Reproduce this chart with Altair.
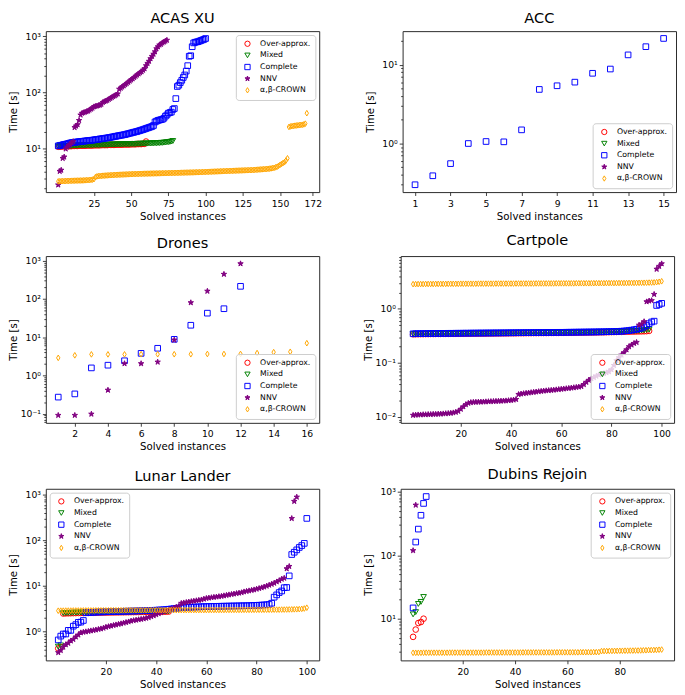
import math
import altair as alt
import pandas as pd

FONT = "DejaVu Sans"
SERIES = ["Over-approx.", "Mixed", "Complete", "NNV", "α,β-CROWN"]
STROKES = ["#ff0000", "#008000", "#0000ff", "#800080", "#ffa500"]
FILLS = ["transparent", "transparent", "transparent", "#800080", "transparent"]
STAR = "M0,-1L0.225,-0.309L0.951,-0.309L0.363,0.118L0.588,0.809L0,0.382L-0.588,0.809L-0.363,0.118L-0.951,-0.309L-0.225,-0.309Z"
THIN_DIAMOND = "M0,-1L0.6,0L0,1L-0.6,0Z"
SHAPES = ["circle", "triangle-down", "square", STAR, THIN_DIAMOND]

# ---------------- ACAS XU ----------------
ACAS_OVER = [10.9,11.0,11.0,11.1,11.1,11.1,11.2,11.2,11.2,11.2,
             11.3,11.3,11.3,11.3,11.4,11.4,11.4,11.4,11.4,11.5,
             11.5,11.5,11.5,11.5,11.6,11.6,11.6,11.6,11.6,11.7,
             11.7,11.7,11.7,11.7,11.8,11.8,11.8,11.8,11.8,11.9,
             11.9,11.9,11.9,11.9,12.0,12.0,12.0,12.0,12.0,12.1,
             12.1,12.1,12.1,12.2,12.2,12.2,12.2,12.3,12.3,13.5]
ACAS_MIXED = [11.0,11.1,11.1,11.2,11.2,11.2,11.3,11.3,11.3,11.3,
              11.4,11.4,11.4,11.4,11.5,11.5,11.5,11.5,11.5,11.6,
              11.6,11.6,11.6,11.6,11.7,11.7,11.7,11.7,11.7,11.8,
              11.8,11.8,11.8,11.8,11.9,11.9,11.9,11.9,11.9,12.0,
              12.0,12.0,12.0,12.0,12.1,12.1,12.1,12.1,12.1,12.2,
              12.2,12.2,12.2,12.3,12.3,12.3,12.3,12.4,12.4,12.4,
              12.4,12.5,12.5,12.5,12.6,12.6,12.6,12.7,12.7,12.8,
              12.8,12.9,13.0,13.1,13.2,13.3,13.5,13.8]
ACAS_COMPLETE = [11.3,11.5,11.6,11.8,12.0,12.1,12.3,12.5,12.7,12.9,
                 13.0,13.1,13.2,13.3,13.4,13.5,13.6,13.7,13.8,13.9,
                 14.0,14.1,14.2,14.3,14.4,14.6,14.7,14.8,15.0,15.1,
                 15.2,15.4,15.5,15.7,15.8,16.0,16.2,16.4,16.6,16.8,
                 17.0,17.2,17.4,17.6,17.8,18.0,18.3,18.6,18.9,19.2,
                 19.5,19.8,20.1,20.4,20.8,21.2,21.6,22.0,22.5,23.0,
                 23.5,24.0,24.5,25.0,26.0,30.0,31.0,32.0,32.5,33.0,
                 33.5,35.0,38.0,40.0,43.0,44.0,45.0,50.0,52.0,78.0,
                 128,135,150,165,185,205,240,300,440,450,
                 650,760,780,790,800,820,840,860,880,910]
ACAS_NNV = [2.3,4.0,4.2,6.8,7.2,10.0,10.8,11.5,12.0,12.8,
            13.5,24.0,25.5,27.0,32.0,40.0,43.0,44.0,45.0,46.0,
            47.0,49.0,51.0,53.0,56.0,57.0,58.0,59.0,60.0,62.0,
            67.0,69.0,71.0,73.0,76.0,79.0,82.0,85.0,88.0,91.0,
            95.0,115,120,126,132,138,145,152,160,168,
            176,185,195,205,215,225,235,250,265,300,
            330,360,400,440,480,530,600,650,700,720,
            760,790,820,850]
ACAS_CROWN = [2.65,2.66,2.67,2.68,2.68,2.69,2.70,2.70,2.71,2.72,
              2.72,2.73,2.73,2.74,2.74,2.75,2.75,2.76,2.77,2.78,
              2.79,2.80,2.82,2.85,2.90,
              3.15,3.25,3.28,3.30,3.32,3.34,3.35,3.37,3.38,3.40,3.41,3.42,3.43,3.45,3.46,
              3.47,3.48,3.49,3.50,3.51,3.52,3.53,3.54,3.55,3.56,
              3.57,3.58,3.58,3.59,3.60,3.61,3.61,3.62,3.63,3.63,
              3.64,3.64,3.65,3.66,3.66,3.67,3.67,3.68,3.68,3.69,
              3.70,3.70,3.71,3.71,3.72,3.73,3.73,3.74,3.74,3.75,
              3.76,3.76,3.77,3.78,3.78,3.79,3.80,3.80,3.81,3.82,
              3.82,3.83,3.84,3.85,3.85,3.86,3.87,3.88,3.89,3.90,
              3.91,3.92,3.93,3.94,3.95,3.96,3.97,3.98,3.99,4.00,
              4.01,4.02,4.03,4.04,4.05,4.06,4.07,4.08,4.09,4.10,
              4.11,4.12,4.13,4.14,4.15,4.16,4.17,4.18,4.19,4.20,
              4.21,4.22,4.24,4.26,4.28,4.30,4.32,4.34,4.36,4.38,
              4.40,4.43,4.46,4.50,4.55,
              4.6,4.7,4.8,5.0,5.2,5.4,5.6,5.8,6.2,6.8,
              24.5,25.0,25.3,25.6,25.8,26.0,26.2,26.4,26.6,26.8,27.2,28.0,
              43.0]

# ---------------- ACC ----------------
ACC_COMPLETE = [0.30,0.39,0.556,1.0,1.06,1.05,1.49,4.85,5.4,6.0,7.77,8.8,13.3,16.9,21.5]

# ---------------- Drones ----------------
DRONES_COMPLETE = [0.272,0.33,1.58,1.86,2.43,3.79,5.15,8.83,20.6,42.7,55.8,215]
DRONES_NNV = [0.091,0.091,0.098,0.415,2.05,2.05,2.25,8.5,80.6,161,446,841]
DRONES_CROWN = [2.89,3.37,3.57,3.57,3.57,3.6,3.6,3.6,3.6,3.65,3.65,3.65,3.86,4.08,4.17,7.0]

# ---------------- Cartpole ----------------
CART_OVER = [0.338,0.339,0.339,0.340,0.340,0.341,0.341,0.342,0.342,0.343,
             0.343,0.343,0.344,0.344,0.344,0.345,0.345,0.345,0.346,0.346,
             0.346,0.347,0.347,0.347,0.348,0.348,0.348,0.349,0.349,0.349,
             0.350,0.350,0.350,0.351,0.351,0.351,0.352,0.352,0.352,0.353,
             0.353,0.353,0.354,0.354,0.354,0.355,0.355,0.355,0.356,0.356,
             0.356,0.357,0.357,0.357,0.358,0.358,0.359,0.359,0.359,0.360,
             0.360,0.361,0.361,0.361,0.362,0.362,0.363,0.363,0.364,0.364,
             0.365,0.365,0.366,0.366,0.367,0.368,0.368,0.369,0.370,0.371,
             0.372,0.373,0.374,0.375,0.376,0.377,0.378,0.379,0.380,0.381,
             0.382,0.383,0.384,0.386,0.390]
CART_MIXED = [0.340,0.341,0.341,0.342,0.342,0.343,0.343,0.344,0.344,0.345,
              0.345,0.345,0.346,0.346,0.346,0.347,0.347,0.347,0.348,0.348,
              0.348,0.349,0.349,0.349,0.350,0.350,0.350,0.351,0.351,0.351,
              0.352,0.352,0.352,0.353,0.353,0.353,0.354,0.354,0.354,0.355,
              0.355,0.355,0.356,0.356,0.356,0.357,0.357,0.357,0.358,0.358,
              0.358,0.359,0.359,0.359,0.360,0.360,0.361,0.361,0.361,0.362,
              0.362,0.363,0.363,0.363,0.364,0.364,0.365,0.365,0.366,0.366,
              0.367,0.367,0.368,0.368,0.369,0.370,0.370,0.371,0.372,0.373,
              0.374,0.375,0.376,0.377,0.378,0.380,0.382,0.384,0.386,0.389,
              0.392,0.396,0.400,0.405,0.412]
CART_COMPLETE = [0.345,0.346,0.347,0.347,0.348,0.348,0.349,0.349,0.350,0.350,
                 0.350,0.351,0.351,0.351,0.352,0.352,0.352,0.353,0.353,0.353,
                 0.354,0.354,0.354,0.355,0.355,0.355,0.356,0.356,0.356,0.357,
                 0.357,0.357,0.358,0.358,0.358,0.359,0.359,0.359,0.360,0.360,
                 0.360,0.361,0.361,0.361,0.362,0.362,0.362,0.363,0.363,0.363,
                 0.364,0.364,0.364,0.365,0.365,0.365,0.366,0.366,0.367,0.367,
                 0.367,0.368,0.368,0.369,0.369,0.370,0.370,0.371,0.371,0.372,
                 0.372,0.373,0.373,0.374,0.375,0.375,0.376,0.377,0.378,0.379,
                 0.380,0.381,0.383,0.385,0.388,0.392,0.397,0.403,0.410,0.418,
                 0.428,0.440,0.460,0.490,0.530,0.570,0.590,1.15,1.20,1.26]
CART_NNV = [0.0108,0.0109,0.0110,0.0110,0.0111,0.0111,0.0112,0.0112,0.0113,0.0113,
            0.0114,0.0114,0.0115,0.0116,0.0117,0.0118,0.0120,0.0123,
            0.0128,0.0140,0.0155,0.0170,0.0180,0.0186,
            0.0188,0.0189,0.0190,0.0190,0.0191,0.0192,0.0193,0.0194,0.0195,0.0196,
            0.0197,0.0198,0.0199,0.0200,0.0202,0.0204,0.0207,0.0212,
            0.0262,0.0268,0.0272,0.0276,0.0280,0.0284,0.0288,0.0292,0.0296,0.0300,
            0.0304,0.0307,0.0310,0.0313,0.0316,0.0320,0.0324,0.0328,0.0332,0.0336,
            0.0340,0.0345,0.0350,0.0355,0.0360,0.0368,
            0.040,0.044,0.048,0.051,0.054,0.057,0.060,0.062,0.064,0.066,
            0.069,0.075,0.090,0.110,
            0.125,0.140,0.155,0.175,0.200,0.215,0.230,0.240,
            0.50,0.52,0.58,1.35,1.40,1.42,1.85,5.4,6.1,6.8]
CART_CROWN = [2.85,2.85,2.86,2.86,2.86,2.87,2.87,2.87,2.87,2.88,
              2.88,2.88,2.88,2.88,2.89,2.89,2.89,2.89,2.89,2.90,
              2.90,2.90,2.90,2.90,2.90,2.90,2.91,2.91,2.91,2.91,
              2.91,2.91,2.91,2.92,2.92,2.92,2.92,2.92,2.92,2.92,
              2.92,2.93,2.93,2.93,2.93,2.93,2.93,2.93,2.93,2.94,
              2.94,2.94,2.94,2.94,2.94,2.94,2.94,2.95,2.95,2.95,
              2.95,2.95,2.95,2.95,2.95,2.96,2.96,2.96,2.96,2.96,
              2.96,2.96,2.97,2.97,2.97,2.97,2.97,2.98,2.98,2.98,
              2.98,2.98,2.99,2.99,2.99,2.99,3.00,3.00,3.00,3.01,
              3.01,3.02,3.02,3.03,3.04,3.05,3.07,3.10,3.15,3.22]

# ---------------- Lunar Lander ----------------
LUNAR_OVER = [0.43,0.46,2.50,2.52,2.53,2.54,2.55,2.56,2.57,2.58,
              2.58,2.59,2.59,2.60,2.60,2.61,2.61,2.62,2.62,2.63,
              2.63,2.64,2.64,2.65,2.65,2.66,2.66,2.67,2.67,2.68,
              2.68,2.69,2.69,2.70,2.70,2.71,2.71,2.72,2.72,2.73,
              2.73,2.74,2.74,2.75,2.76]
LUNAR_MIXED = [0.47,0.50,2.55,2.57,2.58,2.59,2.60,2.61,2.62,2.62,
               2.63,2.63,2.64,2.64,2.65,2.65,2.66,2.66,2.67,2.67,
               2.68,2.68,2.69,2.69,2.70,2.70,2.71,2.71,2.72,2.72,
               2.73,2.73,2.74,2.74,2.75,2.75,2.76,2.76,2.77,2.77,
               2.78,2.78,2.79,2.80,2.81]
LUNAR_COMPLETE = [0.66,0.80,0.89,0.89,1.07,1.07,1.32,1.43,1.60,1.62,1.76,
                  2.60,2.62,2.64,2.66,2.68,2.70,2.71,2.72,2.73,2.74,
                  2.75,2.76,2.77,2.78,2.79,2.80,2.81,2.82,2.83,2.84,
                  2.85,2.86,2.87,2.88,2.89,2.90,2.92,2.94,2.96,2.98,
                  3.00,3.03,3.06,3.10,3.15,3.20,3.25,3.30,3.35,
                  3.38,3.40,3.42,3.44,3.46,3.48,3.50,3.52,3.54,3.55,
                  3.56,3.57,3.58,3.59,3.60,3.61,3.62,3.63,3.64,3.65,
                  3.66,3.67,3.68,3.69,3.70,3.71,3.72,3.74,3.76,3.78,
                  3.80,3.83,3.86,3.90,3.95,4.2,
                  5.7,6.4,7.2,7.8,9.2,9.3,16.7,49,55,62,70,77,86,303]
LUNAR_NNV = [0.35,0.39,0.46,0.52,0.56,0.63,0.68,0.77,0.85,0.95,
             0.98,1.00,1.02,1.05,1.07,1.10,1.13,1.16,1.20,1.26,
             1.30,1.34,1.38,1.42,1.46,1.50,1.55,1.60,1.65,1.72,
             1.76,1.80,1.84,1.88,1.92,1.98,2.05,2.15,2.25,2.37,
             2.50,2.62,2.75,2.88,3.03,3.15,3.30,3.45,3.60,
             4.20,4.30,4.40,4.50,4.60,4.70,4.80,4.90,5.00,5.20,5.40,
             5.50,5.60,5.70,5.80,5.90,6.00,6.15,6.30,6.45,6.60,
             6.75,6.90,7.05,7.20,7.50,7.70,7.90,8.10,8.30,8.60,
             8.90,9.20,9.60,10.0,10.5,11.0,11.6,12.4,13.2,14.2,14.9,
             24,27,303,718,890]
LUNAR_CROWN = [2.88,2.89,2.89,2.90,2.90,2.90,2.91,2.91,2.91,2.91,
               2.92,2.92,2.92,2.92,2.92,2.93,2.93,2.93,2.93,2.93,
               2.93,2.94,2.94,2.94,2.94,2.94,2.94,2.94,2.95,2.95,
               2.95,2.95,2.95,2.95,2.95,2.95,2.96,2.96,2.96,2.96,
               2.96,2.96,2.96,2.96,2.97,2.97,2.97,2.97,2.97,2.97,
               2.97,2.97,2.98,2.98,2.98,2.98,2.98,2.98,2.98,2.98,
               2.99,2.99,2.99,2.99,2.99,2.99,2.99,3.00,3.00,3.00,
               3.00,3.00,3.00,3.00,3.01,3.01,3.01,3.01,3.01,3.02,
               3.02,3.02,3.02,3.03,3.03,3.03,3.04,3.04,3.04,3.05,
               3.05,3.06,3.07,3.08,3.09,3.10,3.12,3.16,3.22,3.35]

# ---------------- Dubins Rejoin ----------------
DUBINS_OVER = [5.17,6.74,8.55,8.87,10.0]
DUBINS_MIXED = [11.7,12.7,17.1,18.4,22.0]
DUBINS_COMPLETE = [14.8,162,259,428,658,845]
DUBINS_NNV = [119,620]
DUBINS_CROWN = [2.90,2.90,2.90,2.90,2.91,2.91,2.91,2.91,2.91,2.91,
                2.91,2.91,2.91,2.91,2.92,2.92,2.92,2.92,2.92,2.92,
                2.92,2.92,2.92,2.92,2.92,2.92,2.92,2.92,2.93,2.93,
                2.93,2.93,2.93,2.93,2.93,2.93,2.93,2.93,2.93,2.93,
                2.93,2.93,2.94,2.94,2.94,2.94,2.94,2.94,2.94,2.94,
                2.94,2.94,2.94,2.94,2.94,2.95,2.95,2.95,2.95,2.95,
                2.95,2.95,2.95,2.95,2.96,2.96,2.96,2.96,2.96,2.97,
                2.97,2.98,
                3.08,3.09,3.09,3.10,3.10,3.11,3.11,3.12,3.12,3.13,
                3.13,3.14,3.14,3.15,3.15,3.16,3.17,3.18,3.19,3.20,
                3.21,3.22,3.24,3.26]


def log_ticks(lo, hi):
    vals = []
    for n in range(math.floor(math.log10(lo)), math.ceil(math.log10(hi)) + 1):
        for k in range(1, 10):
            v = float(f"{k}e{n}")
            if lo <= v <= hi:
                vals.append(v)
    return vals


E = "round(log(datum.value) / LN10)"
MAJOR = f"abs(log(datum.value) / LN10 - {E}) < 0.001"
LABEL_EXPR = (f"{MAJOR} ? ({E} <= -2 ? '10⁻²' : {E} == -1 ? '10⁻¹' : {E} == 0 ? '10⁰' : "
              f"{E} == 1 ? '10¹' : {E} == 2 ? '10²' : '10³') : ''")


def panel(title, data, xdom, xticks, ydom, orient, width=282, height=170):
    rows = []
    for name in SERIES:
        for i, v in enumerate(data.get(name, [])):
            rows.append({"x": i + 1, "y": v, "series": name})
    df = pd.DataFrame(rows)
    legend = alt.Legend(orient=orient, offset=4, title=None)
    return alt.Chart(df, title=alt.Title(title)).mark_point(
        filled=True, size=34, strokeWidth=1, opacity=1
    ).encode(
        x=alt.X("x:Q", scale=alt.Scale(domain=xdom, nice=False, zero=False),
                axis=alt.Axis(values=xticks, title="Solved instances", format="d",
                              labelOverlap=False)),
        y=alt.Y("y:Q", scale=alt.Scale(type="log", domain=ydom, nice=False),
                axis=alt.Axis(values=log_ticks(*ydom), labelExpr=LABEL_EXPR, title="Time [s]",
                              labelOverlap=False,
                              tickSize={"condition": {"test": MAJOR, "value": 3.5}, "value": 2})),
        fill=alt.Fill("series:N", scale=alt.Scale(domain=SERIES, range=FILLS), legend=legend),
        stroke=alt.Stroke("series:N", scale=alt.Scale(domain=SERIES, range=STROKES), legend=legend),
        shape=alt.Shape("series:N", scale=alt.Scale(domain=SERIES, range=SHAPES), legend=legend),
    ).properties(width=width, height=height)


acas = panel("ACAS XU", {"Over-approx.": ACAS_OVER, "Mixed": ACAS_MIXED, "Complete": ACAS_COMPLETE,
                         "NNV": ACAS_NNV, "α,β-CROWN": ACAS_CROWN},
             [-7.35, 176.35], [25, 50, 75, 100, 125, 150, 172], [1.71, 1228], "top-right", height=166)
acc = panel("ACC", {"Complete": ACC_COMPLETE},
            [0.3, 15.7], [1, 3, 5, 7, 9, 11, 13, 15], [0.242, 26.6], "bottom-right", height=166)
drones = panel("Drones", {"Complete": DRONES_COMPLETE, "NNV": DRONES_NNV, "α,β-CROWN": DRONES_CROWN},
               [0.25, 16.75], [2, 4, 6, 8, 10, 12, 14, 16], [0.0577, 1328], "bottom-right", height=172)
cart = panel("Cartpole", {"Over-approx.": CART_OVER, "Mixed": CART_MIXED, "Complete": CART_COMPLETE,
                          "NNV": CART_NNV, "α,β-CROWN": CART_CROWN},
             [-3.95, 104.95], [20, 40, 60, 80, 100], [0.0078, 9.4], "bottom-right", height=172)
lunar = panel("Lunar Lander", {"Over-approx.": LUNAR_OVER, "Mixed": LUNAR_MIXED, "Complete": LUNAR_COMPLETE,
                               "NNV": LUNAR_NNV, "α,β-CROWN": LUNAR_CROWN},
              [-3.95, 104.95], [20, 40, 60, 80, 100], [0.235, 1350], "top-left", height=177)
dubins = panel("Dubins Rejoin", {"Over-approx.": DUBINS_OVER, "Mixed": DUBINS_MIXED,
                                 "Complete": DUBINS_COMPLETE, "NNV": DUBINS_NNV, "α,β-CROWN": DUBINS_CROWN},
               [-3.75, 100.75], [20, 40, 60, 80], [2.2, 1120], "top-right", height=177)

IND = dict(fill="independent", stroke="independent", shape="independent")


def row(a, b):
    return alt.hconcat(a, b, spacing=44).resolve_scale(**IND).resolve_legend(**IND)


top_two = alt.vconcat(row(acas, acc), row(drones, cart), spacing=10
                      ).resolve_scale(**IND).resolve_legend(**IND)

chart = alt.vconcat(top_two, row(lunar, dubins), spacing=14
                    ).resolve_scale(**IND).resolve_legend(**IND).properties(
    padding={"top": -8, "left": 0, "right": 0, "bottom": 0})

chart = chart.configure(font=FONT).configure_view(
    stroke="#262626", strokeWidth=1
).configure_axis(
    labelFont=FONT, titleFont=FONT, labelFontSize=9.5, titleFontSize=10.5,
    titleFontWeight="normal", labelColor="black", titleColor="black",
    tickColor="#262626", tickWidth=0.9, tickSize=3.5, domain=False, grid=False,
    labelFlush=False, labelOverlap=False, labelPadding=3, titlePadding=4
).configure_axisY(
    minExtent=26, maxExtent=26, titlePadding=2, labelPadding=2
).configure_legend(
    fillColor="rgba(255,255,255,0.8)", strokeColor="#cccccc", cornerRadius=3, padding=5,
    labelFont=FONT, labelFontSize=8, labelColor="black", symbolSize=30,
    symbolStrokeWidth=1, rowPadding=2, labelOffset=9, symbolOffset=3
).configure_title(
    font=FONT, fontSize=15, fontWeight="normal", color="black", offset=5
)

chart.save("out.html", embed_options={"renderer": "svg", "actions": False})
